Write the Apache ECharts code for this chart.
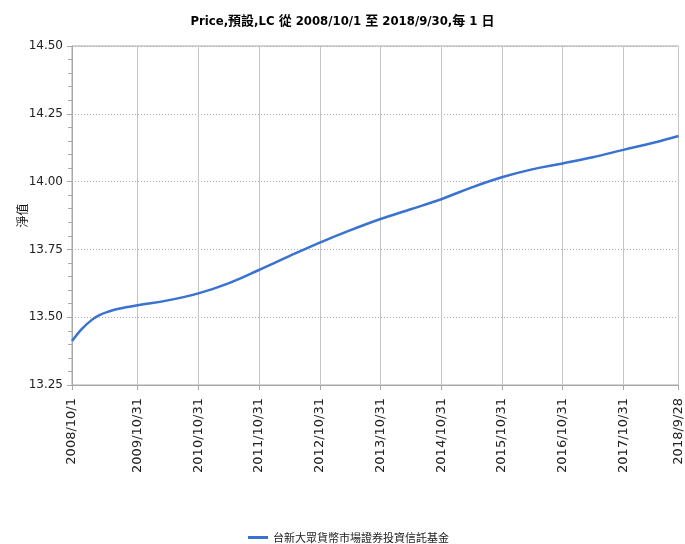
<!DOCTYPE html>
<html>
<head>
<meta charset="utf-8">
<script src="https://cdn.jsdelivr.net/npm/echarts@6/dist/echarts.min.js"></script>
<style>
  html, body { margin: 0; padding: 0; background: #fff; }
  #chart { width: 685px; height: 544px; }
</style>
</head>
<body>
<div id="chart"></div>
<script>
// NAV readings (approx) of the fund, half-yearly plus the early knee
const navDates = [
  '2008/10/1', '2008/12/1', '2009/2/1', '2009/3/15', '2009/5/15', '2009/7/1',
  '2009/10/31', '2010/4/30', '2010/10/31', '2011/4/30', '2011/10/31',
  '2012/4/30', '2012/10/31', '2013/4/30', '2013/10/31', '2014/4/30',
  '2014/10/31', '2015/4/30', '2015/10/31', '2016/4/30', '2016/10/31',
  '2017/4/30', '2017/10/31', '2018/4/30', '2018/9/28'
];
const navValues = [
  13.412, 13.458, 13.492, 13.508, 13.522, 13.530,
  13.544, 13.562, 13.588, 13.625, 13.674,
  13.725, 13.775, 13.820, 13.862, 13.898,
  13.935, 13.978, 14.016, 14.045, 14.067,
  14.090, 14.117, 14.143, 14.168
];
const tickDates = [
  '2008/10/1', '2009/10/31', '2010/10/31', '2011/10/31', '2012/10/31',
  '2013/10/31', '2014/10/31', '2015/10/31', '2016/10/31', '2017/10/31', '2018/9/28'
];
const fundName = '台新大眾貨幣市場證券投資信託基金';

// x is a plain value axis in days since 1970, so the ticks can sit on the real dates
const DAY = 86400000;
const toDay = (s) => {
  const [y, m, d] = s.split('/').map(Number);
  return Math.round(Date.UTC(y, m - 1, d) / DAY);
};
const fmtDay = (v) => {
  const d = new Date(Math.round(v) * DAY);
  return d.getUTCFullYear() + '/' + (d.getUTCMonth() + 1) + '/' + d.getUTCDate();
};

const tickDays = tickDates.map(toDay);
const seriesData = navDates.map((s, i) => [toDay(s), navValues[i]]);

const chart = echarts.init(document.getElementById('chart'));

const option = {
  animation: false,
  title: {
    text: 'Price,預設,LC 從 2008/10/1 至 2018/9/30,每 1 日',
    left: 'center',
    top: 10,
    textStyle: {
      fontFamily: "'DejaVu Sans Condensed', 'Liberation Sans Narrow', 'Noto Sans CJK TC'",
      fontSize: 13,
      fontWeight: 'bold',
      color: '#000'
    }
  },
  legend: {
    top: 527,
    left: 243,
    icon: 'rect',
    itemWidth: 20,
    itemHeight: 3,
    itemGap: 6,
    textStyle: {
      fontFamily: "'Noto Sans CJK TC', sans-serif",
      fontSize: 11,
      color: '#222'
    },
    data: [fundName]
  },
  grid: {
    left: 72,
    right: 5,
    top: 46,
    bottom: 159,
    show: true,
    borderColor: '#a8a8a8',
    borderWidth: 1
  },
  xAxis: {
    type: 'value',
    min: toDay('2008/10/1'),
    max: toDay('2018/9/28'),
    axisLine: { lineStyle: { color: '#a8a8a8' } },
    axisTick: {
      show: true,
      length: 5,
      customValues: tickDays,
      lineStyle: { color: '#a8a8a8' }
    },
    axisLabel: {
      customValues: tickDays,
      rotate: 90,
      margin: 13,
      fontFamily: "'DejaVu Sans', sans-serif",
      fontSize: 13,
      color: '#222',
      formatter: (v) => fmtDay(v)
    },
    splitLine: {
      show: true,
      lineStyle: { color: '#c4c4c4', type: 'solid' }
    }
  },
  yAxis: {
    type: 'value',
    min: 13.25,
    max: 14.5,
    interval: 0.25,
    name: '淨值',
    nameLocation: 'middle',
    nameRotate: 90,
    nameGap: 44,
    nameMoveOverlap: false,
    nameTextStyle: {
      fontFamily: "'Noto Sans CJK TC', sans-serif",
      fontSize: 12,
      color: '#111'
    },
    axisLine: { show: true, lineStyle: { color: '#a8a8a8' } },
    axisTick: { show: true, length: 5, lineStyle: { color: '#a8a8a8' } },
    minorTick: { show: true, splitNumber: 5, length: 4, lineStyle: { color: '#a8a8a8' } },
    axisLabel: {
      margin: 9,
      fontFamily: "'DejaVu Sans', sans-serif",
      fontSize: 12,
      color: '#222',
      formatter: (v) => v.toFixed(2)
    },
    splitLine: {
      show: true,
      lineStyle: { color: '#b0b0b0', type: [1, 2] }
    }
  },
  series: [
    {
      name: fundName,
      type: 'line',
      data: seriesData,
      smooth: 0.4,
      showSymbol: false,
      symbol: 'none',
      lineStyle: { color: '#3a72d0', width: 2.5 },
      itemStyle: { color: '#3a72d0' }
    }
  ]
};

chart.setOption(option);
</script>
</body>
</html>
